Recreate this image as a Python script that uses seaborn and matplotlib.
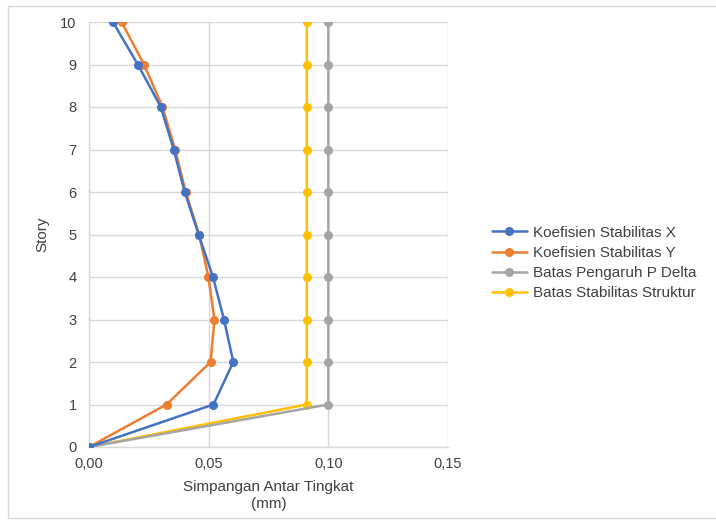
import matplotlib
matplotlib.use("Agg")
import matplotlib.pyplot as plt
from matplotlib.patches import Rectangle
from matplotlib.ticker import FuncFormatter
import seaborn as sns
import pandas as pd

# Story levels and drift-related stability values
stories = [0, 1, 2, 3, 4, 5, 6, 7, 8, 9, 10]
koef_x = [0.0, 0.052, 0.0603, 0.0564, 0.0518, 0.0458, 0.0400, 0.0354, 0.0300, 0.0204, 0.0100]
koef_y = [0.0, 0.0324, 0.0508, 0.0524, 0.0499, 0.0460, 0.0404, 0.0360, 0.0307, 0.0230, 0.0136]
batas_pdelta = [0.0, 0.10, 0.10, 0.10, 0.10, 0.10, 0.10, 0.10, 0.10, 0.10, 0.10]
batas_stabil = [0.0, 0.091, 0.091, 0.091, 0.091, 0.091, 0.091, 0.091, 0.091, 0.091, 0.091]

series_names = ["Koefisien Stabilitas X", "Koefisien Stabilitas Y",
                "Batas Pengaruh P Delta", "Batas Stabilitas Struktur"]
series_values = [koef_x, koef_y, batas_pdelta, batas_stabil]
colors = ["#4472C4", "#ED7D31", "#A5A5A5", "#FFC000"]

x_ticks = [0.0, 0.05, 0.10, 0.15]
y_ticks = list(range(0, 11))

rows = []
for name, vals in zip(series_names, series_values):
    for s, v in zip(stories, vals):
        rows.append({"Series": name, "Story": s, "Value": v})
df = pd.DataFrame(rows)

sns.set_theme(style="white")
plt.rcParams["font.family"] = ["Liberation Sans", "DejaVu Sans"]

fig = plt.figure(figsize=(7.16, 5.22), dpi=100)
ax = fig.add_axes([89 / 716, 1 - 447 / 522, (448 - 89) / 716, (447 - 22) / 522])

# Outer chart border
fig.patches.append(Rectangle((8 / 716, 1 - 518 / 522), 712 / 716, 512 / 522,
                             transform=fig.transFigure, fill=False,
                             edgecolor="#D9D9D9", linewidth=1.0))

# Draw the last series first so the X/Y curves sit on top
order = [3, 2, 1, 0]
for i in order:
    sub = df[df["Series"] == series_names[i]]
    sns.lineplot(data=sub, x="Value", y="Story", sort=False, estimator=None,
                 color=colors[i], linewidth=1.8, marker="o", markersize=6.5,
                 markeredgewidth=0, label=series_names[i], ax=ax, zorder=3 + (3 - i))

ax.set_xlim(0, 0.15)
ax.set_ylim(0, 10)
ax.set_xticks(x_ticks)
ax.set_yticks(y_ticks)
ax.xaxis.set_major_formatter(FuncFormatter(lambda v, p: f"{v:.2f}".replace(".", ",")))
ax.grid(True, color="#D9D9D9", linewidth=1.0)
for side in ["top", "right"]:
    ax.spines[side].set_visible(False)
for side in ["left", "bottom"]:
    ax.spines[side].set_color("#D9D9D9")
    ax.spines[side].set_linewidth(1.0)
ax.tick_params(axis="both", length=0, labelsize=10.5, colors="#404040")
ax.tick_params(axis="x", pad=7)
ax.tick_params(axis="y", pad=9)
for lbl in ax.get_xticklabels() + ax.get_yticklabels():
    lbl.set_color("#404040")

ax.set_xlabel("Simpangan Antar Tingkat\n(mm)", fontsize=11, color="#404040",
              labelpad=7, linespacing=1.25)
ax.set_ylabel("Story", fontsize=11, color="#404040", labelpad=8)

handles, labels = ax.get_legend_handles_labels()
hmap = dict(zip(labels, handles))
ax.legend([hmap[n] for n in series_names], series_names,
          loc="center left", bbox_to_anchor=(478 / 716, 1 - 263 / 522),
          bbox_transform=fig.transFigure, frameon=False, fontsize=11,
          handlelength=2.3, handletextpad=0.4, labelspacing=0.4,
          labelcolor="#404040")

fig.savefig("out.png", dpi=100)
